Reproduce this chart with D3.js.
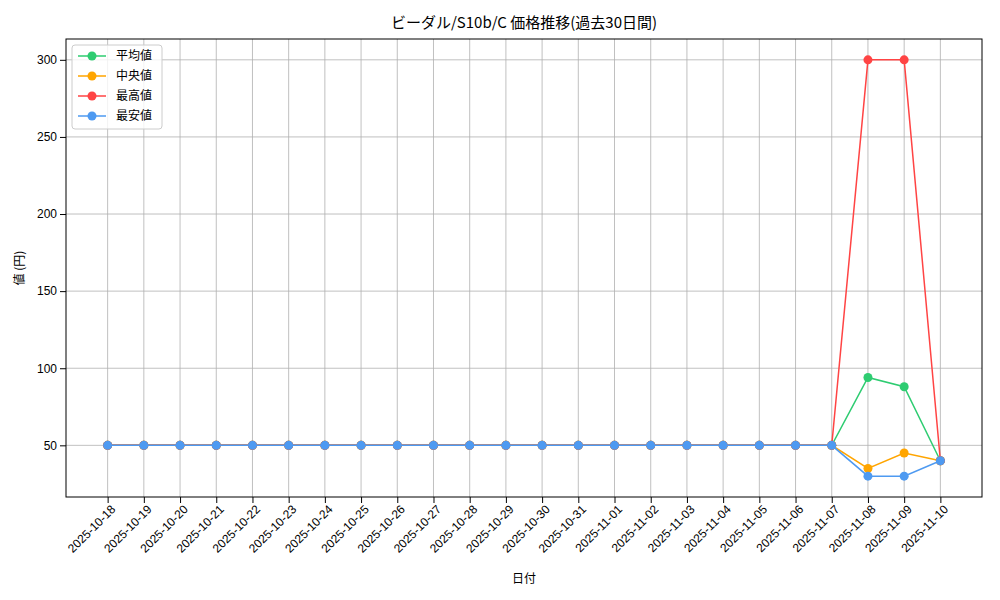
<!DOCTYPE html>
<html><head><meta charset="utf-8">
<script src="https://cdn.jsdelivr.net/npm/d3@7"></script>
<style>body{margin:0;background:#fff;font-family:"Noto Sans CJK JP","DejaVu Sans",sans-serif;}</style>
</head><body><svg id="c" width="1000" height="600"></svg>
<script>
const dates=["2025-10-18","2025-10-19","2025-10-20","2025-10-21","2025-10-22","2025-10-23","2025-10-24","2025-10-25","2025-10-26","2025-10-27","2025-10-28","2025-10-29","2025-10-30","2025-10-31","2025-11-01","2025-11-02","2025-11-03","2025-11-04","2025-11-05","2025-11-06","2025-11-07","2025-11-08","2025-11-09","2025-11-10"];
const base=new Array(20).fill(50);
const avgVals=[...base,50,94,88,40];
const medVals=[...base,50,35,45,40];
const maxVals=[...base,50,300,300,40];
const minVals=[...base,50,30,30,40];
const yTicks=[50,100,150,200,250,300];
const series=[
 {name:"平均値",color:"#2ecc71",v:avgVals},
 {name:"中央値",color:"#ffa500",v:medVals},
 {name:"最高値",color:"#ff4444",v:maxVals},
 {name:"最安値",color:"#4e9af1",v:minVals}];
const L=66,R=982,T=39,B=497;
const svg=d3.select("#c");
const n=dates.length;
const x=d3.scaleLinear().domain([-(n-1)*0.05,(n-1)*1.05]).range([L,R]);
const y=d3.scaleLinear().domain([16.5,313.5]).range([B,T]);
const g=svg.append("g");
// grid
g.selectAll(".gx").data(dates).join("line").attr("x1",(d,i)=>x(i)).attr("x2",(d,i)=>x(i)).attr("y1",T).attr("y2",B).attr("stroke","#b0b0b0").attr("stroke-width",0.8);
g.selectAll(".gy").data(yTicks).join("line").attr("x1",L).attr("x2",R).attr("y1",d=>y(d)).attr("y2",d=>y(d)).attr("stroke","#b0b0b0").attr("stroke-width",0.8);
// axes
const xa=svg.append("g").attr("transform",`translate(0,${B})`).call(d3.axisBottom(x).tickValues(d3.range(n)).tickFormat(i=>dates[i]).tickSizeOuter(0));
xa.selectAll("text").attr("font-size",12).attr("fill","#000").attr("text-anchor","end").attr("transform","rotate(-45)").attr("dx","-0.3em").attr("dy","0.5em");
xa.select(".domain").remove();
const ya=svg.append("g").attr("transform",`translate(${L},0)`).call(d3.axisLeft(y).tickValues(yTicks).tickSizeOuter(0));
ya.selectAll("text").attr("font-size",12).attr("fill","#000");
ya.select(".domain").remove();
svg.append("rect").attr("x",L).attr("y",T).attr("width",R-L).attr("height",B-T).attr("fill","none").attr("stroke","#000").attr("stroke-width",1);
const line=d3.line().x((d,i)=>x(i)).y(d=>y(d));
series.forEach(s=>{
 svg.append("path").attr("d",line(s.v)).attr("fill","none").attr("stroke",s.color).attr("stroke-width",1.5);
 svg.append("g").selectAll("circle").data(s.v).join("circle").attr("cx",(d,i)=>x(i)).attr("cy",d=>y(d)).attr("r",4.5).attr("fill",s.color);
});
svg.append("text").attr("x",(L+R)/2).attr("y",28).attr("text-anchor","middle").attr("font-size",15).text("ビーダル/S10b/C 価格推移(過去30日間)");
svg.append("text").attr("x",(L+R)/2).attr("y",583).attr("text-anchor","middle").attr("font-size",12).text("日付");
svg.append("text").attr("transform",`translate(24,${(T+B)/2}) rotate(-90)`).attr("text-anchor","middle").attr("font-size",12).text("値 (円)");
const lg=svg.append("g").attr("transform","translate(72,45)");
lg.append("rect").attr("width",90).attr("height",84).attr("rx",3).attr("fill","#fff").attr("fill-opacity",0.8).attr("stroke","#ccc");
series.forEach((s,i)=>{
 const yy=11+i*20;
 lg.append("line").attr("x1",6).attr("x2",34).attr("y1",yy).attr("y2",yy).attr("stroke",s.color).attr("stroke-width",1.5);
 lg.append("circle").attr("cx",20).attr("cy",yy).attr("r",4.5).attr("fill",s.color);
 lg.append("text").attr("x",44).attr("y",yy+4).attr("font-size",12).text(s.name);
});
</script></body></html>
